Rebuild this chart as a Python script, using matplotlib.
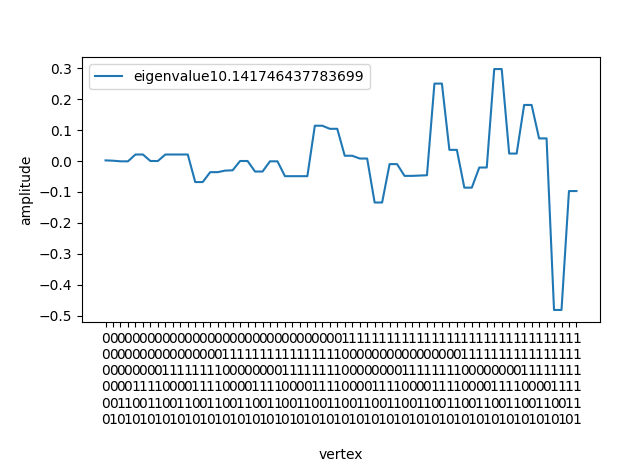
import matplotlib
matplotlib.use("Agg")
import matplotlib.pyplot as plt

vertices = [format(i, "06b") for i in range(64)]
tick_labels = ["\n".join(v) + "\n" for v in vertices]

amplitude = [
    0.002, 0.001, -0.001, -0.001, 0.021, 0.021, 0.000, 0.000,
    0.021, 0.021, 0.021, 0.021, -0.068, -0.068, -0.036, -0.036,
    -0.031, -0.030, 0.000, 0.000, -0.034, -0.034, -0.001, -0.001,
    -0.049, -0.049, -0.049, -0.049, 0.114, 0.114, 0.104, 0.104,
    0.017, 0.017, 0.008, 0.008, -0.134, -0.134, -0.010, -0.010,
    -0.048, -0.048, -0.047, -0.046, 0.250, 0.250, 0.036, 0.036,
    -0.086, -0.086, -0.021, -0.021, 0.297, 0.297, 0.024, 0.024,
    0.181, 0.181, 0.073, 0.073, -0.481, -0.481, -0.097, -0.097,
]
label = "eigenvalue10.141746437783699"

fig = plt.figure(figsize=(6.4, 4.68), dpi=100)
ax = fig.add_axes([82/640, 1-322/468, (600-82)/640, (322-57)/468])
ax.plot(range(64), amplitude, label=label)
ax.set_xticks(range(64))
ax.set_xticklabels(tick_labels)
ax.set_xlabel("vertex")
ax.set_ylabel("amplitude")
ax.legend(loc="upper left")
fig.savefig("out.png", dpi=100)
